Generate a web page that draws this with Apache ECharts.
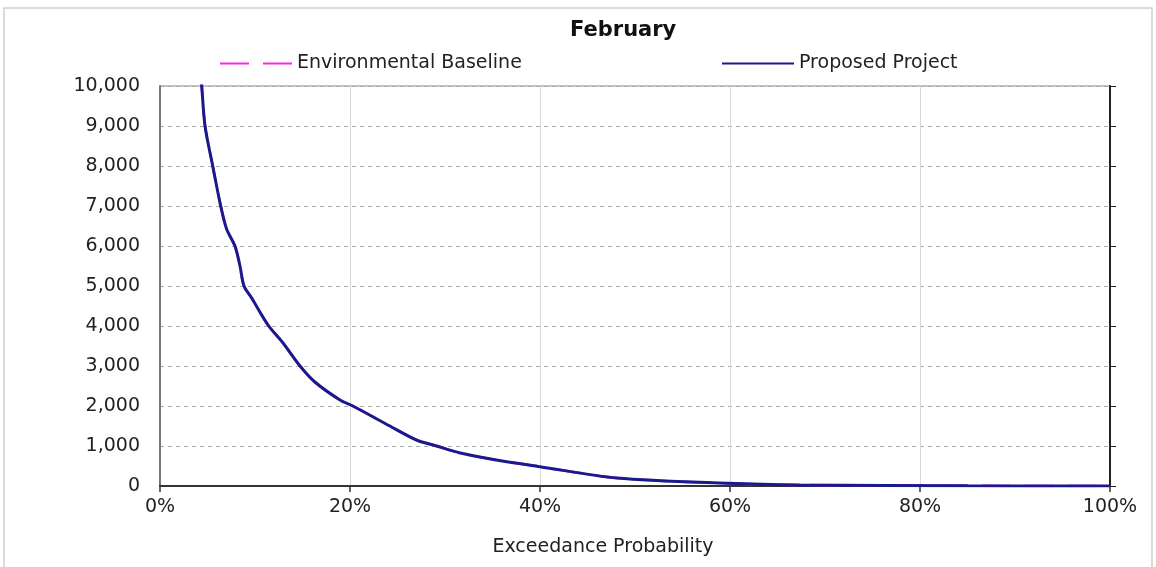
<!DOCTYPE html>
<html>
<head>
<meta charset="utf-8">
<script src="https://cdn.jsdelivr.net/npm/echarts@6/dist/echarts.min.js"></script>
<style>
  html, body { margin: 0; padding: 0; background: #fff; }
  #flowChart { width: 1156px; height: 567px; }
</style>
</head>
<body>
<div id="flowChart"></div>
<script>
var myChart = echarts.init(document.getElementById('flowChart'))

// exceedance probability (%) and flow values
var probability = [4.2, 4.39, 4.74, 5.55, 6.39, 7.02, 7.89, 8.42, 8.84, 9.65, 11.37, 12.95, 14.74, 16.3, 18.95, 20.3, 24.2, 27.0, 29.1, 31.6, 35.4, 40.0, 48.1, 59.7, 67.4, 85, 100]
var baselineFlow = [10500, 10000, 9000, 8000, 7000, 6420, 6000, 5500, 5000, 4700, 4025, 3575, 3000, 2600, 2150, 2000, 1500, 1150, 1000, 825, 650, 483, 200, 67, 25, 5, 0]
var projectFlow = [10500, 10000, 9000, 8000, 7000, 6420, 6000, 5500, 5000, 4700, 4025, 3575, 3000, 2600, 2150, 2000, 1500, 1150, 1000, 825, 650, 483, 200, 67, 25, 5, 0]

function pairs(xs, ys) {
  return xs.map(function(x, i) {
    return [x, ys[i]]
  })
}

var labelFont = 'DejaVu Sans, Verdana, sans-serif'

option = {
  animation: false,
  backgroundColor: '#fff',
  title: {
    text: 'February',
    left: 565,
    top: 15,
    textStyle: {
      fontFamily: 'DejaVu Sans, sans-serif',
      fontWeight: 'bold',
      fontSize: 21,
      color: '#111'
    }
  },
  legend: [
    {
      data: ['Environmental Baseline'],
      left: 214,
      top: 49,
      itemWidth: 72,
      itemHeight: 14,
      itemStyle: { opacity: 0 },
      textStyle: { fontFamily: labelFont, fontSize: 19, color: '#222' }
    },
    {
      data: ['Proposed Project'],
      left: 716,
      top: 49,
      itemWidth: 72,
      itemHeight: 14,
      itemStyle: { opacity: 0 },
      textStyle: { fontFamily: labelFont, fontSize: 19, color: '#222' }
    }
  ],
  grid: {
    left: 160,
    right: 46,
    top: 86,
    bottom: 81,
    show: true,
    borderColor: '#888',
    borderWidth: 1
  },
  xAxis: {
    type: 'value',
    min: 0,
    max: 100,
    interval: 20,
    name: 'Exceedance Probability',
    nameLocation: 'middle',
    nameGap: 52,
    nameTextStyle: {
      fontFamily: labelFont,
      fontSize: 19,
      color: '#222',
      padding: [0, 64, 0, 0]
    },
    axisLine: { onZero: false, lineStyle: { color: '#333', width: 2 } },
    axisTick: { show: true, length: 6, lineStyle: { color: '#333', width: 1.5 } },
    axisLabel: {
      formatter: '{value}%',
      margin: 12,
      fontFamily: labelFont,
      fontSize: 19,
      color: '#222'
    },
    splitLine: { show: true, lineStyle: { color: '#d8d8d8', width: 1 } }
  },
  yAxis: [
    {
      type: 'value',
      min: 0,
      max: 10000,
      interval: 1000,
      axisLine: { show: true, lineStyle: { color: '#777', width: 2 } },
      axisTick: { show: false },
      axisLabel: {
        margin: 20,
        fontFamily: labelFont,
        fontSize: 19,
        color: '#222',
        formatter: function(v) {
          return v.toLocaleString('en-US')
        }
      },
      splitLine: { show: true, lineStyle: { color: '#aaa', type: [4, 4], width: 1 } }
    },
    {
      type: 'value',
      min: 0,
      max: 10000,
      interval: 1000,
      position: 'right',
      axisLine: { show: true, lineStyle: { color: '#222', width: 2 } },
      axisTick: { show: true, inside: false, length: 6, lineStyle: { color: '#222' } },
      axisLabel: { show: false },
      splitLine: { show: false }
    }
  ],
  series: [
    {
      name: 'Environmental Baseline',
      type: 'line',
      showSymbol: false,
      symbol: 'none',
      smooth: 0.3,
      color: '#ff22ee',
      lineStyle: { color: '#ff22ee', width: 2.5, type: [29, 14] },
      data: pairs(probability, baselineFlow),
      z: 2
    },
    {
      name: 'Proposed Project',
      type: 'line',
      showSymbol: false,
      symbol: 'none',
      smooth: 0.3,
      color: '#1a1a8c',
      lineStyle: { color: '#1a1a8c', width: 3 },
      data: pairs(probability, projectFlow),
      z: 3
    }
  ],
  graphic: [
    {
      type: 'rect',
      shape: { x: 4, y: 8, width: 1148, height: 600 },
      style: { fill: 'none', stroke: '#cfcfcf', lineWidth: 1.5 },
      silent: true
    }
  ]
}
myChart.setOption(option)
window.onresize = function() {
  myChart.resize()
}
</script>
</body>
</html>
